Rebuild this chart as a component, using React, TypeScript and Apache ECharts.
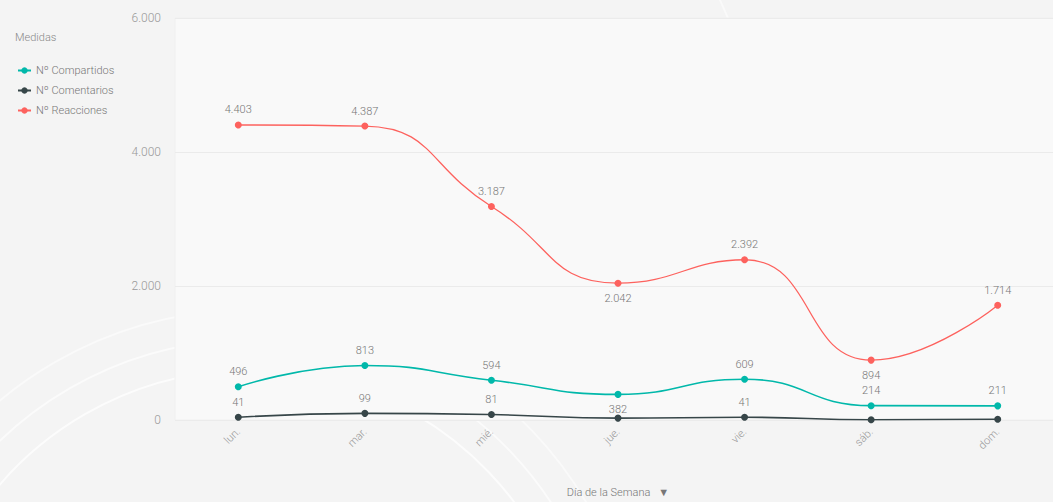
import React, { useEffect, useRef } from "react";
import * as echarts from "echarts";

const days = ["lun.", "mar.", "mié.", "jue.", "vie.", "sáb.", "dom."];
const compartidos = [496, 813, 594, 382, 609, 214, 211];
const comentarios = [41, 99, 81, 28, 41, 4, 12];
const reacciones = [4403, 4387, 3187, 2042, 2392, 894, 1714];
const yTicks = [0, 2000, 4000, 6000];

const compartidosLabelPos = ["top", "top", "top", "bottom", "top", "top", "top"];
const comentariosLabelShow = [true, true, true, false, true, false, false];
const reaccionesLabelPos = ["top", "top", "top", "bottom", "top", "bottom", "top"];

const FONT = "Roboto, 'Noto Sans', sans-serif";
const fmt = (v: number) => String(v).replace(/\B(?=(\d{3})+(?!\d))/g, ".");

export default function App() {
  const ref = useRef<HTMLDivElement>(null);
  useEffect(() => {
    if (!ref.current) return;
    const chart = echarts.init(ref.current, undefined, { renderer: "svg" });
    const labelBase = {
      show: true,
      color: "#777",
      fontSize: 11,
      fontWeight: 300,
      fontFamily: FONT,
      distance: 6,
      formatter: (p: any) => fmt(p.value),
    };
    chart.setOption({
      animation: false,
      backgroundColor: "#f4f4f4",
      textStyle: { fontFamily: FONT },
      graphic: [
        { type: "circle", shape: { cx: 250, cy: 700, r: 330 }, style: { fill: "none", stroke: "rgba(255,255,255,0.7)", lineWidth: 2 }, z: -10 },
        { type: "circle", shape: { cx: 250, cy: 700, r: 360 }, style: { fill: "none", stroke: "rgba(255,255,255,0.6)", lineWidth: 2 }, z: -10 },
        { type: "circle", shape: { cx: 250, cy: 700, r: 390 }, style: { fill: "none", stroke: "rgba(255,255,255,0.5)", lineWidth: 2 }, z: -10 },
        { type: "circle", shape: { cx: 1200, cy: -200, r: 520 }, style: { fill: "none", stroke: "rgba(255,255,255,0.5)", lineWidth: 2 }, z: -10 },
      ],
      legend: {
        orient: "vertical",
        left: 12,
        top: 60,
        itemWidth: 13,
        itemHeight: 8,
        itemGap: 9,
        textStyle: { color: "#777", fontSize: 11, fontWeight: 300, fontFamily: FONT },
        data: ["Nº Compartidos", "Nº Comentarios", "Nº Reacciones"],
      },
      title: {
        text: "Medidas",
        left: 10,
        top: 27,
        textStyle: { color: "#888", fontSize: 11, fontWeight: 300, fontFamily: FONT },
      },
      grid: {
        left: 175,
        right: -8,
        top: 18,
        bottom: 82,
        containLabel: false,
        outerBoundsMode: "none",
        show: true,
        backgroundColor: "#f9f9f9",
        borderColor: "#f0f0f0",
        borderWidth: 1,
      },
      xAxis: {
        type: "category",
        data: days,
        boundaryGap: true,
        axisLine: { show: false },
        axisTick: { show: false },
        axisLabel: { rotate: 45, color: "#999", fontSize: 11, fontWeight: 300, fontFamily: FONT, margin: 10 },
        name: "Día de la Semana   ▼",
        nameLocation: "middle",
        nameGap: 67,
        nameTextStyle: { color: "#777", fontSize: 11, fontWeight: 300, fontFamily: FONT },
      },
      yAxis: {
        type: "value",
        min: yTicks[0],
        max: yTicks[yTicks.length - 1],
        interval: 2000,
        axisLine: { show: false },
        axisTick: { show: false },
        axisLabel: { color: "#999", fontSize: 12, fontWeight: 300, fontFamily: FONT, margin: 14, formatter: (v: number) => fmt(v) },
        splitLine: { lineStyle: { color: "#ebebeb", width: 1 } },
      },
      series: [
        {
          name: "Nº Compartidos",
          type: "line",
          smooth: true,
          symbol: "circle",
          symbolSize: 7,
          color: "#01B8AA",
          lineStyle: { width: 1.6 },
          data: compartidos.map((v, i) => ({ value: v, label: { position: compartidosLabelPos[i] } })),
          label: labelBase,
          z: 3,
        },
        {
          name: "Nº Comentarios",
          type: "line",
          smooth: true,
          symbol: "circle",
          symbolSize: 7,
          color: "#374649",
          lineStyle: { width: 1.6 },
          data: comentarios.map((v, i) => ({ value: v, label: { show: comentariosLabelShow[i] } })),
          label: { ...labelBase, position: "top" },
          z: 2,
        },
        {
          name: "Nº Reacciones",
          type: "line",
          smooth: true,
          symbol: "circle",
          symbolSize: 7,
          color: "#FD625E",
          lineStyle: { width: 1.3 },
          data: reacciones.map((v, i) => ({ value: v, label: { position: reaccionesLabelPos[i] } })),
          label: labelBase,
          z: 4,
        },
      ],
    });
    return () => chart.dispose();
  }, []);
  return <div ref={ref} style={{ position: "fixed", left: 0, top: 0, width: 1053, height: 502 }} />;
}
